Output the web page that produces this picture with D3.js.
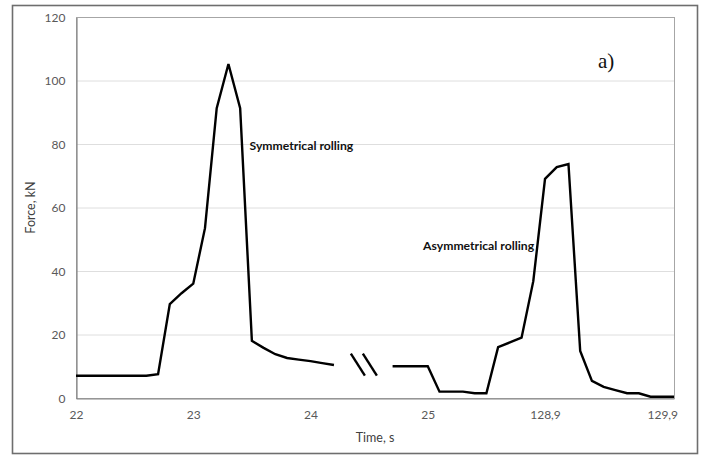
<!DOCTYPE html>
<html>
<head>
<meta charset="utf-8">
<script src="https://cdn.jsdelivr.net/npm/d3@7/dist/d3.min.js"></script>
<style>
  html, body { margin: 0; padding: 0; background: #fff; }
  svg { display: block; }
</style>
</head>
<body>
<svg id="chart" width="701" height="461"></svg>
<script>
// ---- Data ----
// x positions are sample indices (0.1 s steps along the broken time axis)
const xTickIndex = [0, 10, 20, 30, 40, 50];
const xTickLabels = ["22", "23", "24", "25", "128,9", "129,9"];
const yTicks = [0, 20, 40, 60, 80, 100, 120];

// Segment 1: symmetrical rolling (22.0 s - 24.2 s)
const seg1Index = [0,1,2,3,4,5,6,7,8,9,10,11,12,13,14,15,16,17,18,19,20,21,22];
const seg1Force = [7,7,7,7,7,7,7,7.5,29.6,33,36,53.5,91.3,105.2,91.3,18,15.8,13.8,12.6,12.1,11.6,11.0,10.4];

// Segment 2: asymmetrical rolling (after the axis break)
const seg2Index = [27,28,29,30,31,32,33,34,35,36,37,38,39,40,41,42,43,44,45,46,47,48,49,50,51];
const seg2Force = [10,10,10,10,2,2,2,1.5,1.5,16,17.5,19,36.8,69,72.7,73.7,14.8,5.4,3.5,2.5,1.5,1.5,0.4,0.4,0.4];

const annotations = [
  { text: "Symmetrical rolling", idx: 14.8, val: 78 },
  { text: "Asymmetrical rolling", idx: 29.6, val: 46.5 }
];
const breakAt = { idx: 24.55, val: 10.5 };

// ---- Layout ----
const svg = d3.select("#chart");
const W = 701, H = 461;
const plot = { left: 76, top: 17, right: 674, bottom: 398 };

svg.append("rect").attr("x", 0).attr("y", 0).attr("width", W).attr("height", H).attr("fill", "#fff");
// outer frame
svg.append("rect")
  .attr("x", 12.5).attr("y", 5.5).attr("width", 685).attr("height", 448)
  .attr("fill", "none").attr("stroke", "#6e6e6e").attr("stroke-width", 1.6);

const x = d3.scaleLinear().domain([0, 51]).range([plot.left, plot.right]);
const y = d3.scaleLinear().domain([0, 120]).range([plot.bottom, plot.top]);

// gridlines
svg.append("g")
  .selectAll("line")
  .data(yTicks.filter(d => d > 0 && d < 120))
  .join("line")
  .attr("x1", plot.left).attr("x2", plot.right)
  .attr("y1", d => y(d) + 0.5).attr("y2", d => y(d) + 0.5)
  .attr("stroke", "#dedede").attr("stroke-width", 1);

// plot border (top / right)
svg.append("rect")
  .attr("x", plot.left + 0.5).attr("y", plot.top + 0.5)
  .attr("width", plot.right - plot.left).attr("height", plot.bottom - plot.top)
  .attr("fill", "none").attr("stroke", "#a6a6a6").attr("stroke-width", 1);

const font = "Lato, 'Open Sans', 'DejaVu Sans', sans-serif";

// Y axis
const yAxis = d3.axisLeft(y).tickValues(yTicks).tickSize(0).tickPadding(11);
const gy = svg.append("g").attr("transform", `translate(${plot.left + 0.5},0.5)`).call(yAxis);
gy.select(".domain").attr("stroke", "#868686").attr("stroke-width", 1.2);
gy.selectAll("text").attr("font-family", font).attr("font-size", 12).attr("fill", "#595959");

// X axis
const xAxis = d3.axisBottom(x).tickValues(xTickIndex)
  .tickFormat((d, i) => xTickLabels[i]).tickSize(0).tickPadding(12);
const gx = svg.append("g").attr("transform", `translate(0,${plot.bottom + 0.5})`).call(xAxis);
gx.select(".domain").attr("stroke", "#868686").attr("stroke-width", 1.2);
gx.selectAll("text").attr("font-family", font).attr("font-size", 12).attr("fill", "#595959");

// axis titles
svg.append("text")
  .attr("transform", `translate(35,${(plot.top + plot.bottom) / 2}) rotate(-90)`)
  .attr("text-anchor", "middle")
  .attr("font-family", font).attr("font-size", 12.5).attr("fill", "#404040")
  .text("Force, kN");
svg.append("text")
  .attr("x", 375).attr("y", 442)
  .attr("text-anchor", "middle")
  .attr("font-family", font).attr("font-size", 12.5).attr("fill", "#404040")
  .text("Time, s");

// lines
const line = d3.line().x(d => x(d[0])).y(d => y(d[1]));
const seg1 = seg1Index.map((d, i) => [d, seg1Force[i]]);
const seg2 = seg2Index.map((d, i) => [d, seg2Force[i]]);
[seg1, seg2].forEach(seg => {
  svg.append("path").datum(seg)
    .attr("d", line)
    .attr("fill", "none").attr("stroke", "#000").attr("stroke-width", 2.4)
    .attr("stroke-linejoin", "miter").attr("stroke-miterlimit", 3);
});

// axis-break marks "\\"
const bx = x(breakAt.idx), by = y(breakAt.val);
[-6, 6].forEach(off => {
  svg.append("line")
    .attr("x1", bx + off - 7).attr("y1", by - 11)
    .attr("x2", bx + off + 7).attr("y2", by + 11)
    .attr("stroke", "#000").attr("stroke-width", 2.4);
});

// annotations
svg.selectAll("text.ann").data(annotations).join("text")
  .attr("class", "ann")
  .attr("x", d => x(d.idx)).attr("y", d => y(d.val))
  .attr("font-family", font).attr("font-size", 12.2).attr("font-weight", "bold").attr("fill", "#111")
  .text(d => d.text);

// panel label
svg.append("text")
  .attr("x", 598).attr("y", 68)
  .attr("font-family", "'Liberation Serif', 'DejaVu Serif', serif")
  .attr("font-size", 21).attr("fill", "#111")
  .text("a)");
</script>
</body>
</html>
